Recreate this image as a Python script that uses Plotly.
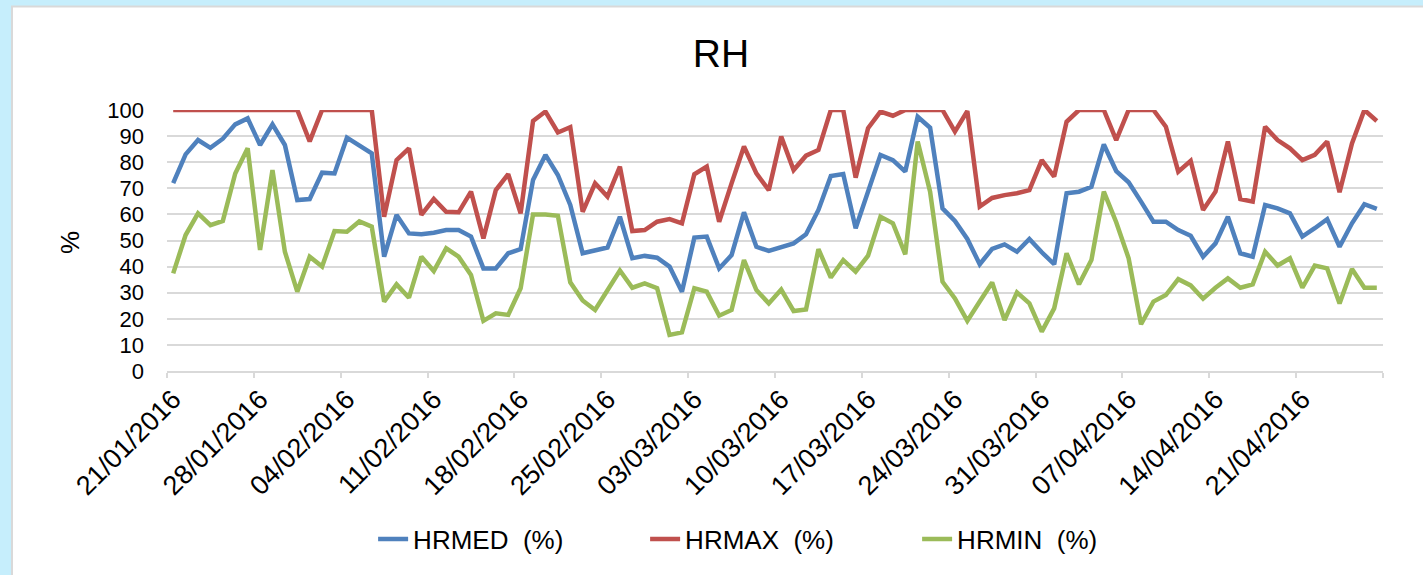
import pandas as pd
import plotly.graph_objects as go

# ---- data ----
dates = pd.date_range("2016-01-21", periods=98, freq="D")

hrmed = [72, 83, 88.5, 85.5, 89, 94.5, 96.8, 86.6, 94.5, 86.6,
         65.5, 65.9, 76, 75.7, 89.4, 86.3, 83.4, 43.8, 59.8, 52.7,
         52.4, 53, 54, 54, 51.5, 39.3, 39.3, 45.1, 46.7, 73.2,
         82.8, 75.1, 63.6, 45.1, 46.4, 47.3, 59.1, 43.2, 44.1, 43.4,
         40, 30.4, 51.1, 51.5, 39.3, 44.4, 60.8, 47.6, 46, 47.6,
         48.9, 52.4, 61.7, 74.7, 75.5, 54.7, 68.7, 82.8, 80.8, 76.4,
         97.4, 93.2, 62.3, 57.5, 50.6, 40.9, 46.8, 48.5, 45.7, 50.6,
         45.5, 40.9, 68.1, 68.7, 70.6, 86.8, 76.6, 72.3, 64.9, 57.2,
         57.2, 54, 51.8, 43.8, 48.9, 59.1, 45.1, 43.8, 63.6, 62.3,
         60.4, 51.5, 54.7, 58.2, 47.6, 56.6, 63.9, 62.1]

hrmax = [100, 100, 100, 100, 100, 100, 100, 100, 100, 100,
         100, 88, 100, 100, 100, 100, 100, 59.1, 80.8, 85.3,
         59.8, 65.9, 61, 60.8, 68.7, 50.8, 69.3, 75.4, 60.4, 95.8,
         99.4, 91.4, 93.4, 61, 71.9, 66.8, 78.3, 53.6, 54, 57.2,
         58.2, 56.6, 75.4, 78.3, 57.2, 71.9, 86, 75.7, 69.3, 89.8,
         77, 82.5, 84.7, 100, 100, 74.1, 93, 99.4, 97.8, 100,
         100, 100, 100, 91.7, 99.6, 63, 66.3, 67.4, 68.1, 69.3,
         80.8, 74.5, 95.5, 100, 100, 100, 88.5, 100, 100, 100,
         93.6, 76.4, 80.5, 61.7, 68.7, 87.9, 65.9, 64.9, 93.6, 88.5,
         85.3, 80.8, 82.8, 87.9, 68.5, 87.2, 100, 95.8]

hrmin = [37.4, 52.1, 60.4, 55.9, 57.5, 75.7, 85.3, 46.4, 77, 45.7,
         30.4, 43.8, 40, 53.6, 53.4, 57.3, 55.3, 26.6, 33.2, 28.1,
         43.8, 38.3, 47, 43.8, 36.8, 19.2, 22.1, 21.5, 31.7, 60,
         60, 59.5, 34, 27, 23.4, 31, 38.5, 31.9, 33.6, 31.7,
         13.8, 14.8, 31.7, 30.4, 21.2, 23.4, 42.5, 31, 25.9, 31.2,
         23, 23.6, 46.7, 35.8, 42.5, 38.1, 44.2, 59.1, 56.6, 44.7,
         87.9, 68.7, 34.2, 27.8, 19.2, 26.6, 33.9, 19.5, 30.1, 25.9,
         15.1, 24, 45.1, 33.2, 42.5, 68.7, 57, 43.2, 17.9, 26.6,
         29.1, 35.2, 32.8, 27.7, 31.9, 35.5, 31.9, 33.2, 45.7, 40.4,
         43.2, 31.9, 40.4, 39.3, 25.9, 39.1, 31.9, 31.9]

tick_labels = ["21/01/2016", "28/01/2016", "04/02/2016", "11/02/2016",
               "18/02/2016", "25/02/2016", "03/03/2016", "10/03/2016",
               "17/03/2016", "24/03/2016", "31/03/2016", "07/04/2016",
               "14/04/2016", "21/04/2016"]

series_names = ["HRMED  (%)", "HRMAX  (%)", "HRMIN  (%)"]
colors = ["#4F81BD", "#C0504D", "#9BBB59"]

FONT = "Liberation Sans, Arial, sans-serif"

fig = go.Figure()
for name, vals, col in zip(series_names, [hrmed, hrmax, hrmin], colors):
    fig.add_trace(go.Scatter(x=dates, y=vals, mode="lines", name=name,
                             line=dict(color=col, width=4.5)))

half = pd.Timedelta(hours=12)
major_ticks = list(dates[::7])
minor_ticks = [d - half for d in dates[::7]] + [dates[-1] + half]

fig.update_layout(
    width=1423, height=575,
    margin=dict(l=167, r=40, t=110, b=204),
    paper_bgcolor="#C6EEFC",
    plot_bgcolor="white",
    font=dict(family=FONT, color="black", size=26),
    title=dict(text="RH", x=721 / 1423, xref="container", xanchor="center",
               y=1 - 53 / 575, yref="container", yanchor="middle",
               font=dict(size=39, family=FONT, color="black")),
    showlegend=True,
    legend=dict(orientation="h", x=0.1695, xanchor="left", y=-0.644,
                yanchor="middle", font=dict(size=26, family=FONT),
                bgcolor="rgba(0,0,0,0)", entrywidth=227,
                entrywidthmode="pixels", tracegroupgap=0),
    xaxis=dict(range=[dates[0] - half, dates[-1] + half],
               tickvals=major_ticks, ticktext=tick_labels,
               tickangle=-45, ticks="", showgrid=False,
               showline=True, linecolor="#D9D9D9", linewidth=1.5,
               tickfont=dict(size=27, family=FONT, color="black"),
               minor=dict(tickvals=minor_ticks, ticks="outside",
                          ticklen=5, tickcolor="#D9D9D9", tickwidth=1.5,
                          showgrid=False),
               zeroline=False),
    yaxis=dict(range=[0, 100], dtick=10, tick0=0, showgrid=True,
               gridcolor="#D9D9D9", gridwidth=1.5, showline=False,
               ticks="", zeroline=False, ticklabelstandoff=22,
               tickfont=dict(size=22, family=FONT, color="black")),
    annotations=[dict(text="%", xref="paper", yref="paper",
                      x=(70 - 167) / 1216, y=(371 - 243) / 261,
                      xanchor="center", yanchor="middle", textangle=-90,
                      showarrow=False, font=dict(size=26, family=FONT))],
    shapes=[dict(type="rect", xref="paper", yref="paper",
                 x0=(12 - 167) / 1216, x1=(1440 - 167) / 1216,
                 y0=(371 - 590) / 261, y1=(371 - 6.5) / 261,
                 fillcolor="white", line=dict(color="#D9D9D9", width=2),
                 layer="below")],
)

fig.write_html(
    "out.html",
    config={"displayModeBar": False},
    post_script="document.body.style.margin='0';document.body.style.overflow='hidden';",
)
